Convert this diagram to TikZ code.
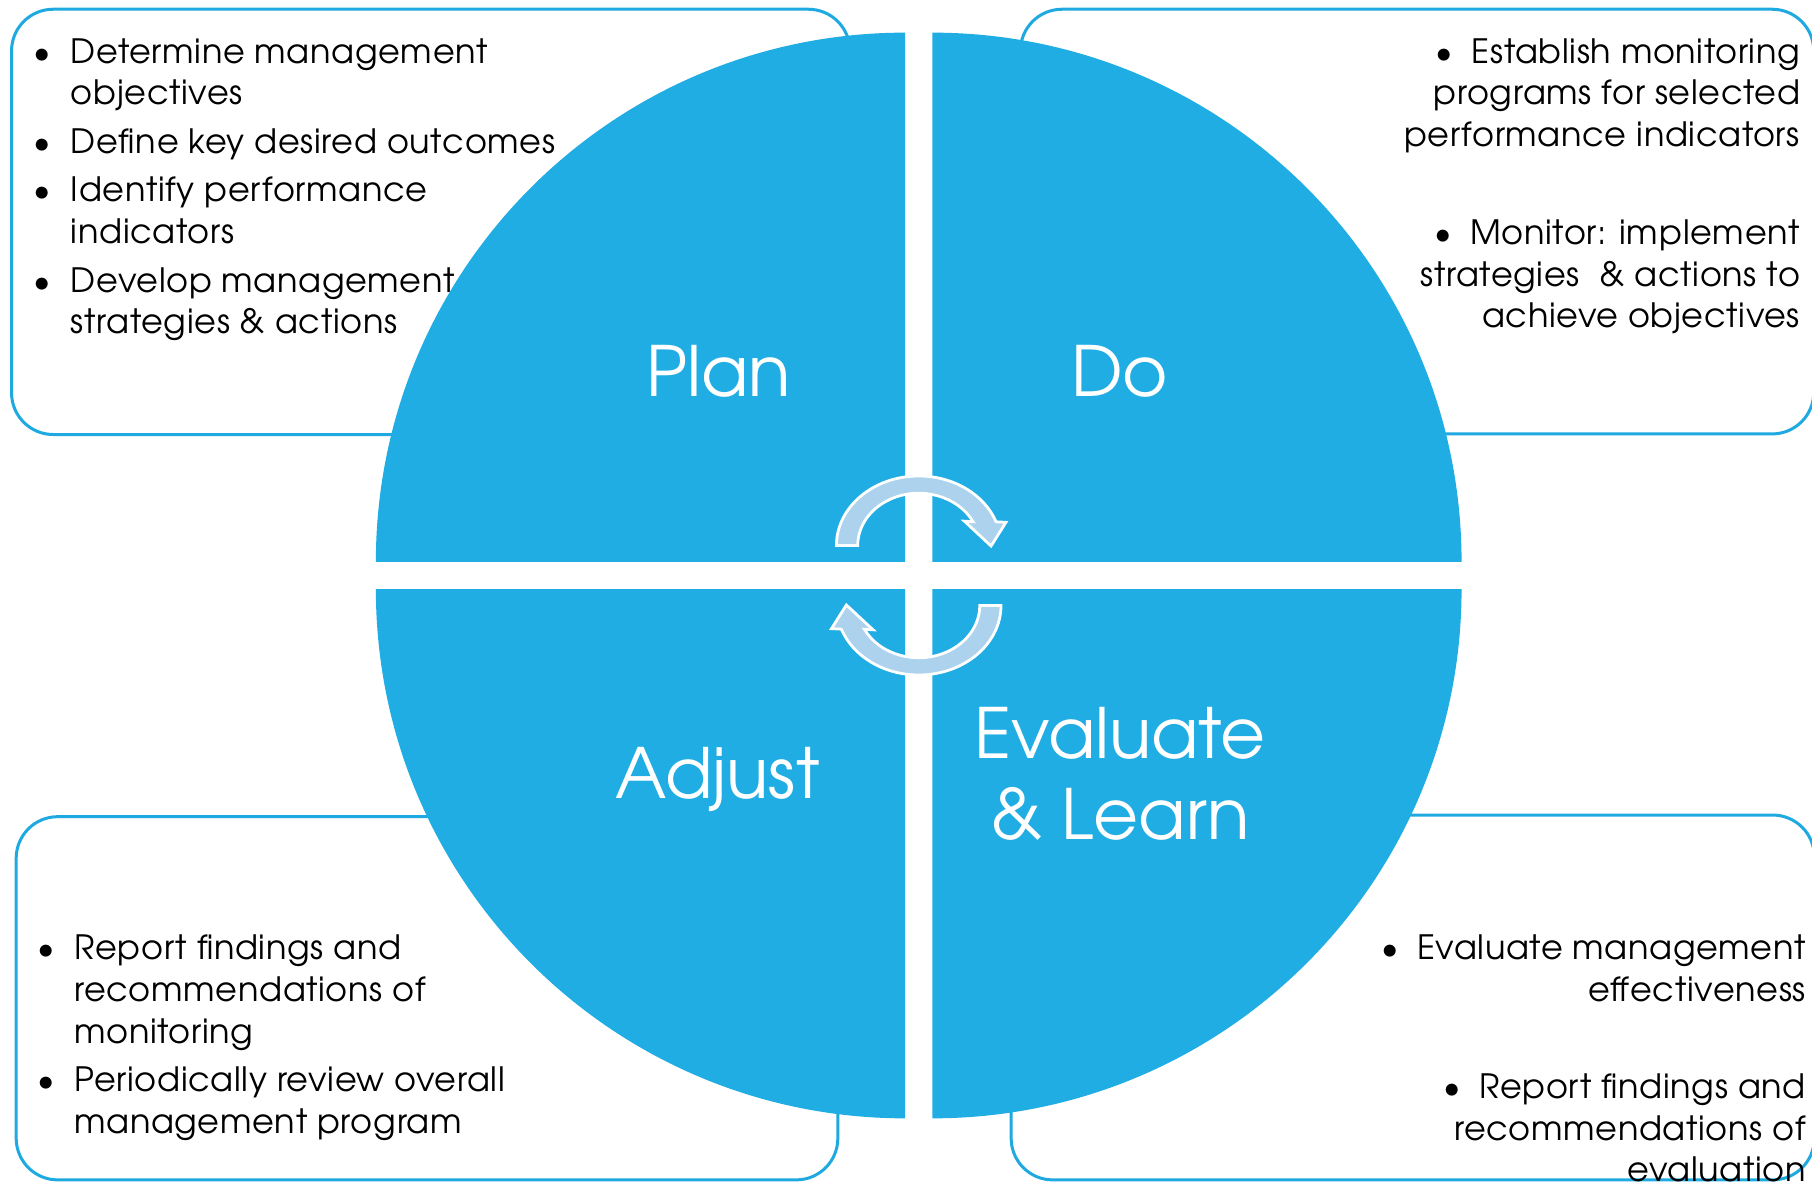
\documentclass[tikz,border=0pt]{standalone}
\usepackage{fontspec}
\setmainfont{TeX Gyre Adventor}
\newfontfamily\notefont[LetterSpace=2]{TeX Gyre Adventor}
\definecolor{quadblue}{RGB}{31,173,227}
\definecolor{boxblue}{RGB}{30,170,225}
\definecolor{arrowblue}{RGB}{172,210,237}
\newcommand{\bul}{\makebox[16pt][l]{\textbullet}}

\begin{document}
\begin{tikzpicture}[x=0.5pt, y=0.5pt,
    quadrant/.style={fill=quadblue},
    notebox/.style={draw=boxblue, line width=1.3pt, fill=white, rounded corners=18pt},
    phase/.style={text=white, font=\fontsize{30}{35}\selectfont, inner sep=0pt},
    notes/.style={font=\notefont\fontsize{14.5}{18}\selectfont, inner sep=0pt},
    cyclearrow/.style={fill=arrowblue, draw=white, line width=1.2pt}]
    \useasboundingbox (0,0) rectangle (1568,1023);
    \clip (0,0) rectangle (1568,1023);

    % note boxes behind the circle
    \draw[notebox] (10,647) rectangle (735.5,1015);
    \draw[notebox] (883,647.5) rectangle (1569.5,1015);
    \draw[notebox] (14,2) rectangle (725,316.3);
    \draw[notebox] (875,2) rectangle (1570,317.7);

    % four quarters of the circle
    \fill[quadrant] (783.25,536.75) -- ++(-458,0) arc[start angle=180, end angle=90, radius=458] -- cycle;
    \fill[quadrant] (806.75,536.75) -- ++(0,458) arc[start angle=90, end angle=0, radius=458] -- cycle;
    \fill[quadrant] (783.25,513.25) -- ++(0,-458) arc[start angle=270, end angle=180, radius=458] -- cycle;
    \fill[quadrant] (806.75,513.25) -- ++(458,0) arc[start angle=0, end angle=-90, radius=458] -- cycle;

    % the two turning arrows
    \foreach \ay/\rot in {551/0, 499/180} {
        \begin{scope}[shift={(795,\ay)}, rotate=\rot]
            \draw[cyclearrow] (180:71.2 and 60.1) arc[start angle=180, end angle=19.9, x radius=71.2, y radius=60.1]
                -- (75.5,20) -- (62.6,-0.5) -- (39.5,21) -- (27:52.8 and 45.2)
                arc[start angle=27, end angle=180, x radius=52.8, y radius=45.2] -- cycle;
        \end{scope}
    }

    \node[phase, anchor=base] (plan) at (622,679.7) {Plan};
    \node[phase, anchor=base] (do) at (969,679.7) {Do};
    \node[phase, anchor=base] (adjust) at (621,332.2) {Adjust};
    \node[phase, anchor=base] (evaluate) at (969,366.8) {\begin{tabular}[t]{@{}c@{}}Evaluate\\\& Learn\end{tabular}};

    \node[notes, anchor=base west] (plannotes) at (29,968.2) {\begin{tabular}[t]{@{}l@{}l@{}}
        \bul & Determine management\\
             & objectives\\[3pt]
        \bul & Define key desired outcomes\\[3pt]
        \bul & Identify performance\\
             & indicators\\[3pt]
        \bul & Develop management\\
             & strategies \& actions
    \end{tabular}};
    \node[notes, anchor=base east] (donotes) at (1558,968.2) {\begin{tabular}[t]{@{}r@{}}
        \textbullet\hspace{8pt}Establish monitoring\\
        programs for selected\\
        performance indicators\\[24.5pt]
        \textbullet\hspace{8pt}Monitor: implement\\
        strategies\ \ \& actions to\\
        achieve objectives
    \end{tabular}};
    \node[notes, anchor=base west] (adjustnotes) at (32,192.3) {\begin{tabular}[t]{@{}l@{}l@{}}
        \bul & Report findings and\\
             & recommendations of\\
             & monitoring\\[3pt]
        \bul & Periodically review overall\\
             & management program
    \end{tabular}};
    \node[notes, anchor=base east] (evaluatenotes) at (1563,192.3) {\begin{tabular}[t]{@{}r@{}}
        \textbullet\hspace{8pt}Evaluate management\\
        effectiveness\\[24pt]
        \textbullet\hspace{8pt}Report findings and\\
        recommendations of\\
        evaluation
    \end{tabular}};
\end{tikzpicture}
\end{document}
